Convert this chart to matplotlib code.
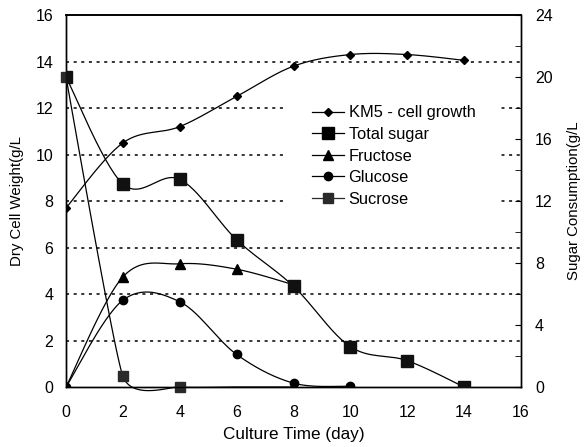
import numpy as np
import matplotlib.pyplot as plt
from matplotlib.lines import Line2D

plt.rcParams["font.family"] = ["Liberation Sans", "DejaVu Sans"]

# culture time (day)
days = [0, 2, 4, 6, 8, 10, 12, 14]

# left axis: dry cell weight (g/L)
cell_growth = [7.7, 10.5, 11.2, 12.5, 13.8, 14.3, 14.3, 14.05]

# right axis: sugar concentration (g/L)
total_sugar = [20.0, 13.1, 13.4, 9.5, 6.5, 2.6, 1.7, 0.0]
fructose_days = [0, 2, 4, 6, 8]
fructose = [0.0, 7.1, 7.95, 7.6, 6.6]
glucose_days = [0, 2, 4, 6, 8, 10]
glucose = [0.0, 5.6, 5.5, 2.1, 0.25, 0.05]
sucrose_days = [0, 2, 4, 6, 8]
sucrose = [20.0, 0.7, 0.0, 0.0, 0.0]


def smooth(x, y, k=1 / 6, n=30):
    # excel-like smoothed line (cubic bezier through the points)
    pts = np.column_stack([np.asarray(x, float), np.asarray(y, float)])
    out = [pts[0]]
    t = np.linspace(0, 1, n)[1:, None]
    for i in range(len(pts) - 1):
        p0 = pts[i - 1] if i > 0 else pts[i]
        p1 = pts[i]
        p2 = pts[i + 1]
        p3 = pts[i + 2] if i + 2 < len(pts) else pts[i + 1]
        c1 = p1 + (p2 - p0) * k
        c2 = p2 - (p3 - p1) * k
        seg = (1 - t) ** 3 * p1 + 3 * (1 - t) ** 2 * t * c1 + 3 * (1 - t) * t ** 2 * c2 + t ** 3 * p2
        out.extend(seg)
    out = np.array(out)
    return out[:, 0], out[:, 1]


fig = plt.figure(figsize=(5.87, 4.47), dpi=100)
ax = fig.add_axes([0.1124, 0.1342, 0.7752, 0.8322])
ax2 = ax.twinx()

ax.set_xlim(0, 16)
ax.set_ylim(0, 16)
ax2.set_ylim(0, 24)

for yv in range(2, 16, 2):
    ax.axhline(yv, color="black", lw=1.1, ls=(0, (2, 3)), zorder=0)

lw = 0.9
sx, sy = smooth(days, cell_growth)
ax.plot(sx, sy, color="black", lw=lw, zorder=3)
ax.plot(days, cell_growth, ls="none", marker="D", ms=4.5, color="black", zorder=4)

sx, sy = smooth(days, total_sugar)
ax2.plot(sx, sy, color="black", lw=lw)
ax2.plot(days, total_sugar, ls="none", marker="s", ms=9, color="#111111", zorder=5)

sx, sy = smooth(fructose_days, fructose)
ax2.plot(sx, sy, color="black", lw=lw)
ax2.plot(fructose_days, fructose, ls="none", marker="^", ms=6.5, color="black")

sx, sy = smooth(glucose_days, glucose)
ax2.plot(sx, sy, color="black", lw=lw)
ax2.plot(glucose_days, glucose, ls="none", marker="o", ms=6, color="black")

sx, sy = smooth(sucrose_days, sucrose, k=0.08)
ax2.plot(sx, sy, color="black", lw=lw, clip_on=False)
ax2.plot(sucrose_days[:3], sucrose[:3], ls="none", marker="s", ms=6.5,
         color="#2a2a2a", clip_on=False)

ax.set_xticks(range(0, 17, 2))
ax.set_yticks(range(0, 17, 2))
ax2.set_yticks(range(0, 25, 4))
ax2.set_yticks(range(0, 25, 2), minor=True)
ax.tick_params(axis="x", length=0, labelsize=11.5, pad=13)
ax.tick_params(axis="y", length=0, labelsize=11.5, pad=9)
ax2.tick_params(axis="y", which="both", direction="in", length=4, labelsize=11.5, pad=10)

for a in (ax, ax2):
    a.spines["top"].set_linestyle((0, (3, 1)))
    a.spines["top"].set_linewidth(1.2)
    for s in ("left", "right", "bottom"):
        a.spines[s].set_linewidth(1.0)

ax.set_xlabel("Culture Time (day)", fontsize=12.3, labelpad=5)
ax.set_ylabel("Dry Cell Weight(g/L", fontsize=10.8, labelpad=8)
ax2.set_ylabel("Sugar Consumption(g/L", fontsize=10.8, labelpad=10)

handles = [
    Line2D([], [], color="black", lw=lw, marker="D", ms=4.5),
    Line2D([], [], color="black", lw=lw, marker="s", ms=9),
    Line2D([], [], color="black", lw=lw, marker="^", ms=6.5),
    Line2D([], [], color="black", lw=lw, marker="o", ms=6),
    Line2D([], [], color="#2a2a2a", lw=lw, marker="s", ms=6.5),
]
labels = ["KM5 - cell growth", "Total sugar", "Fructose", "Glucose", "Sucrose"]
leg = ax2.legend(handles, labels, loc="upper left", bbox_to_anchor=(0.468, 0.845),
                 frameon=True, fancybox=False, edgecolor="white", framealpha=1,
                 fontsize=11.8, handlelength=2.0, handletextpad=0.25,
                 labelspacing=0.4, borderpad=1.5)
leg.set_zorder(10)

fig.savefig("out.png", dpi=100)
